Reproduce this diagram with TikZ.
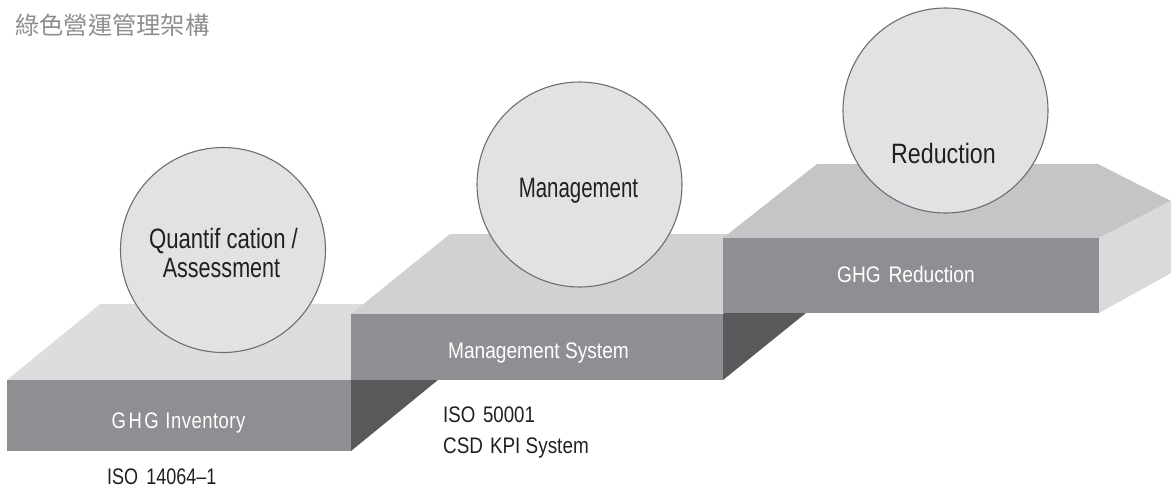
\documentclass[tikz,border=0pt]{standalone}
\usepackage{fontspec}
\usepackage{graphicx}
\setmainfont{Liberation Sans}
\newfontfamily\cjk{Noto Sans CJK TC}
\definecolor{topA}{HTML}{DCDDDF}
\definecolor{topB}{HTML}{D0D1D3}
\definecolor{topC}{HTML}{C4C5C7}
\definecolor{frontgray}{HTML}{8E8F92}
\definecolor{darkside}{HTML}{58595B}
\definecolor{lightside}{HTML}{D9DADC}
\definecolor{ballfill}{HTML}{E1E2E4}
\definecolor{ballline}{HTML}{6D6E71}
\definecolor{titlegray}{HTML}{8D8E90}
\definecolor{ink}{HTML}{231F20}
\newcommand{\sx}[2]{\scalebox{#1}[1]{#2}}
\tikzset{
  front/.style={fill=frontgray, draw=none, rectangle, inner sep=0pt},
  ball/.style={circle, fill=ballfill, draw=ballline, line width=1.1pt, minimum size=205pt, inner sep=0pt},
  balltext/.style={anchor=base, text=ink, inner sep=0pt, font=\fontsize{28}{30}\selectfont},
  facetext/.style={anchor=base, text=white, inner sep=0pt, font=\fontsize{22.5}{24}\selectfont},
  undertext/.style={anchor=base west, text=ink, inner sep=0pt, font=\fontsize{22.5}{24}\selectfont},
}
\begin{document}
\begin{tikzpicture}[x=1pt,y=-1pt]
\useasboundingbox (0,0) rectangle (1171,488);
% title
\node[anchor=base west, inner sep=0pt, text=titlegray, font=\cjk\fontsize{24.3}{26}\selectfont] (title) at (15,34.5) {綠色營運管理架構};

% block 1
\fill[topA] (7,380) -- (100,304) -- (444,304) -- (351,380) -- cycle;
\fill[darkside] (351,380) -- (444,304) -- (444,375) -- (351,451) -- cycle;
\node[front, minimum width=344pt, minimum height=71pt] (f1) at (179,415.5) {};

% block 2
\fill[topB] (351,314) -- (450,234) -- (822,234) -- (723,314) -- cycle;
\fill[darkside] (723,314) -- (822,234) -- (822,300) -- (723,380) -- cycle;
\node[front, minimum width=372pt, minimum height=66pt] (f2) at (537,347) {};

% block 3
\fill[topC] (723,238) -- (817,164) -- (1098,164) -- (1171,201) -- (1099,238) -- cycle;
\fill[lightside] (1099,238) -- (1171,201) -- (1171,273) -- (1099,313) -- cycle;
\node[front, minimum width=376pt, minimum height=75pt] (f3) at (911,275.5) {};

% face labels
\node[facetext] (t1) at (178.5,428) {\sx{0.82}{G\hspace{3pt}H\hspace{3pt}G\hspace{2pt} I\hspace{0.6pt}n\hspace{0.6pt}v\hspace{0.6pt}e\hspace{0.6pt}n\hspace{0.6pt}t\hspace{0.6pt}o\hspace{0.6pt}r\hspace{0.6pt}y}};
\node[facetext] (t2) at (538.5,358) {\sx{0.85}{Management System}};
\node[facetext] (t3) at (906,282) {\sx{0.85}{GHG\hspace{3pt} Reduction}};

% under labels
\node[undertext] (u1) at (107,484) {\sx{0.80}{ISO\hspace{4pt} 14064–1}};
\node[undertext] (u2) at (443,422) {\sx{0.83}{ISO\hspace{3pt} 50001}};
\node[undertext] (u3) at (443,453) {\sx{0.84}{CSD\hspace{2pt} KPI System}};

% circles
\node[ball] (c1) at (223,250) {};
\node[ball] (c2) at (579.5,184.5) {};
\node[ball] (c3) at (945.5,110.5) {};

\node[balltext] (q1) at (223.5,248) {\sx{0.79}{Quantif cation /}};
\node[balltext] (q2) at (221.5,277) {\sx{0.77}{Assessment}};
\node[balltext] (m1) at (578.5,197) {\sx{0.73}{Management}};
\node[balltext] (r1) at (943.5,163) {\sx{0.83}{Reduction}};
\end{tikzpicture}
\end{document}
